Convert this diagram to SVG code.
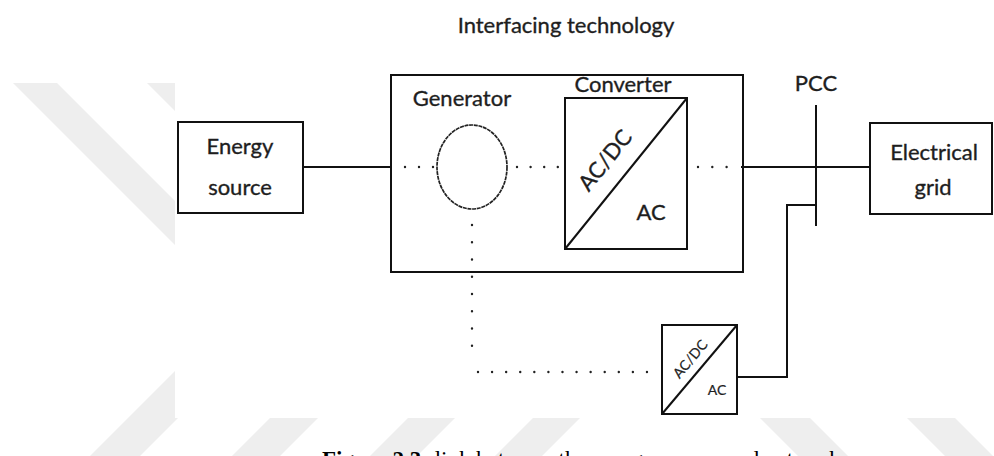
<svg xmlns="http://www.w3.org/2000/svg" width="994" height="456" viewBox="0 0 994 456">
  <style>
    .box{fill:none;stroke:#111;stroke-width:2}
    .wire{fill:none;stroke:#111;stroke-width:2}
    .dots{fill:none;stroke:#222;stroke-width:2.4;stroke-linecap:round}
    .lbl{font-family:Lato,"Open Sans",sans-serif;font-size:22px;fill:#1e1e1e;stroke:#1e1e1e;stroke-width:0.35;text-anchor:middle}
    .sm{font-size:14px;stroke-width:0.2}
    .wm{fill:#eeeeee}
  </style>

  <rect width="994" height="456" fill="#fff"/>

  <!-- faint background mark -->
  <g id="watermark">
    <polygon class="wm" points="13,83 57,83 175,201 175,245"/>
    <polygon class="wm" points="147,83 175,83 175,111"/>
    <polygon class="wm" points="175,371 178,418 140,456 90,456"/>
    <polygon class="wm" points="270,418 318,418 280,456 232,456"/>
    <polygon class="wm" points="408,418 455,418 417,456 370,456"/>
    <polygon class="wm" points="533,418 580,418 542,456 495,456"/>
    <polygon class="wm" points="760,418 810,418 848,456 798,456"/>
    <polygon class="wm" points="907,418 955,418 993,456 945,456"/>
  </g>

  <!-- drawing area -->
  <rect x="175" y="0" width="819" height="418" fill="#fff"/>

  <text class="lbl" x="566" y="33">Interfacing technology</text>

  <g id="connectors">
    <line class="wire" x1="303" y1="167" x2="391" y2="167"/>
    <line class="dots" x1="405" y1="167" x2="434" y2="167" stroke-dasharray="0 14"/>
    <line class="dots" x1="517" y1="167" x2="558" y2="167" stroke-dasharray="0 13.6"/>
    <line class="dots" x1="698" y1="167" x2="727" y2="167" stroke-dasharray="0 14.3"/>
    <line class="wire" x1="741" y1="167" x2="870" y2="167"/>
    <line class="dots" x1="472" y1="225" x2="472" y2="363" stroke-dasharray="0 17.25"/>
    <line class="dots" x1="478" y1="372" x2="647" y2="372" stroke-dasharray="0 14.08"/>
    <polyline class="wire" points="737,377 787,377 787,205 816,205"/>
  </g>

  <g id="energy-source">
    <rect class="box" x="178" y="122" width="125" height="91"/>
    <text class="lbl" x="240" y="154">Energy</text>
    <text class="lbl" x="240" y="195">source</text>
  </g>

  <g id="interfacing-technology">
    <rect class="box" x="391" y="75" width="352" height="197"/>
  </g>

  <g id="generator">
    <ellipse cx="472" cy="167" rx="35" ry="42" fill="none" stroke="#222" stroke-width="1.7" stroke-dasharray="4 0.7"/>
    <text class="lbl" x="462" y="106">Generator</text>
  </g>

  <g id="converter">
    <rect class="box" x="565" y="98" width="122" height="151"/>
    <line class="wire" x1="565" y1="249" x2="687" y2="98"/>
    <text class="lbl" x="623" y="92">Converter</text>
    <text class="lbl" transform="translate(611,165) rotate(-51)" y="0">AC/DC</text>
    <text class="lbl" x="651" y="220">AC</text>
  </g>

  <g id="pcc">
    <line class="wire" x1="816" y1="105" x2="816" y2="226"/>
    <text class="lbl" x="816" y="91">PCC</text>
  </g>

  <g id="electrical-grid">
    <rect class="box" x="870" y="123" width="122" height="91"/>
    <text class="lbl" x="934" y="160">Electrical</text>
    <text class="lbl" x="933" y="195">grid</text>
  </g>

  <g id="small-converter">
    <rect class="box" x="662" y="325" width="75" height="89"/>
    <line class="wire" x1="662" y1="414" x2="737" y2="325"/>
    <text class="lbl sm" transform="translate(694,362) rotate(-50)" fill="#444">AC/DC</text>
    <text class="lbl sm" x="717" y="395">AC</text>
  </g>

  <text x="322" y="467" font-family="'Liberation Serif',serif" font-size="23" fill="#000"><tspan font-weight="bold">Figure 2.3:</tspan> link between the energy source and network</text>
</svg>
